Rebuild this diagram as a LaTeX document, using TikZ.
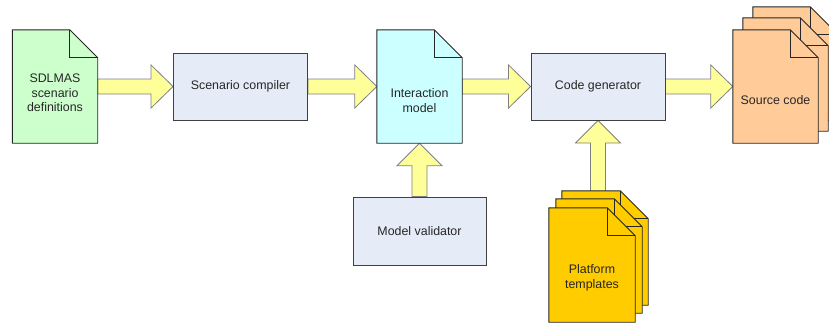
\documentclass[tikz,border=0pt]{standalone}
\usepackage{fontspec}
\setmainfont{Liberation Sans}
\usetikzlibrary{calc,backgrounds}

\definecolor{boxfill}{HTML}{E6ECF7}
\definecolor{boxline}{HTML}{404040}
\definecolor{arrowfill}{HTML}{FFFF99}
\definecolor{arrowline}{HTML}{7F7F7F}
\definecolor{defgreen}{HTML}{CCFFCC}
\definecolor{modelcyan}{HTML}{CCFFFF}
\definecolor{codeorange}{HTML}{FFCC99}
\definecolor{tplgold}{HTML}{FFCC00}

% size of the folded corner of a page
\newcommand\dogear{28pt}

% one page with a folded corner, drawn over the frame of node #1,
% filled with #2 and shifted by (#3,#4)
\newcommand\docpage[4]{%
  \draw[docline,fill=#2]
    ([xshift=#3,yshift=#4]#1.north west)
    -- ([xshift={#3-\dogear},yshift=#4]#1.north east)
    -- ([xshift=#3,yshift={#4-\dogear}]#1.north east)
    -- ([xshift=#3,yshift=#4]#1.south east)
    -- ([xshift=#3,yshift=#4]#1.south west) -- cycle;
  \draw[docline]
    ([xshift={#3-\dogear},yshift=#4]#1.north east)
    |- ([xshift=#3,yshift={#4-\dogear}]#1.north east);
}

% block arrow pointing right, from node #1 to node #2
\newcommand\rightfat[2]{%
  \draw[fatarrow] let \p1=(#1.east), \p2=(#2.west) in
    (\x1,\y2+7.5pt) -- (\x2-22pt,\y2+7.5pt) -- (\x2-22pt,\y2+21.5pt)
    -- (\x2,\y2) -- (\x2-22pt,\y2-21.5pt) -- (\x2-22pt,\y2-7.5pt)
    -- (\x1,\y2-7.5pt) -- cycle;
}

% block arrow pointing up, from node #1 to node #2
\newcommand\upfat[2]{%
  \draw[fatarrow] let \p1=(#1.north), \p2=(#2.south) in
    (\x2-7.5pt,\y1) -- (\x2-7.5pt,\y2-22.5pt) -- (\x2-22.5pt,\y2-22.5pt)
    -- (\x2,\y2) -- (\x2+22.5pt,\y2-22.5pt) -- (\x2+7.5pt,\y2-22.5pt)
    -- (\x2+7.5pt,\y1) -- cycle;
}

\begin{document}
\begin{tikzpicture}[x=1pt,y=-1pt,
  every node/.style={font=\fontsize{12.4}{14.5}\selectfont, text=black!85},
  procbox/.style={draw=boxline, line width=0.9pt, fill=boxfill,
    minimum width=134pt, minimum height=67pt, inner sep=0pt},
  docframe/.style={minimum width=85pt, minimum height=113pt, inner sep=0pt},
  doctext/.style={align=center, inner sep=0pt},
  docline/.style={draw=black!85, line width=0.9pt, line join=miter},
  fatarrow/.style={draw=arrowline, line width=0.8pt, fill=arrowfill, line join=miter},
]
\useasboundingbox (0,0) rectangle (829,324);
\clip (0,0) rectangle (829,324);

% processing steps
\node[procbox] (comp) at (240.5,86.5) {Scenario compiler};
\node[procbox] (gen)  at (598,86.5)   {Code generator};
\node[procbox, minimum width=133pt, minimum height=68pt] (valid) at (419.5,231) {Model validator};

% documents (frames only, pages drawn below)
\node[docframe] (sdl)   at (55,86.5)    {};
\node[docframe] (imod)  at (419.5,86.5) {};
\node[docframe] (src)   at (775.5,86.5) {};
\node[docframe, minimum width=86pt, minimum height=114pt] (plat) at (592,265) {};

\node[doctext] at ([yshift=-6.5pt]sdl.center)  {SDLMAS\\scenario\\definitions};
\node[doctext] at ([yshift=-14pt]imod.center)  {Interaction\\model};
\node[doctext] at ([yshift=-13.5pt]src.center) {Source code};
\node[doctext] at ([yshift=-13pt]plat.center)  {Platform\\templates};

\begin{scope}[on background layer]
  % data flow
  \rightfat{sdl}{comp}
  \rightfat{comp}{imod}
  \rightfat{imod}{gen}
  \rightfat{gen}{src}
  \upfat{valid}{imod}
  \upfat{plat}{gen}

  % pages
  \docpage{sdl}{defgreen}{0pt}{0pt}
  \docpage{imod}{modelcyan}{0pt}{0pt}

  \docpage{src}{codeorange}{20pt}{23pt}
  \docpage{src}{codeorange}{10pt}{12pt}
  \docpage{src}{codeorange}{0pt}{0pt}

  \docpage{plat}{tplgold}{13pt}{17pt}
  \docpage{plat}{tplgold}{7pt}{9pt}
  \docpage{plat}{tplgold}{0pt}{0pt}
\end{scope}
\end{tikzpicture}
\end{document}
